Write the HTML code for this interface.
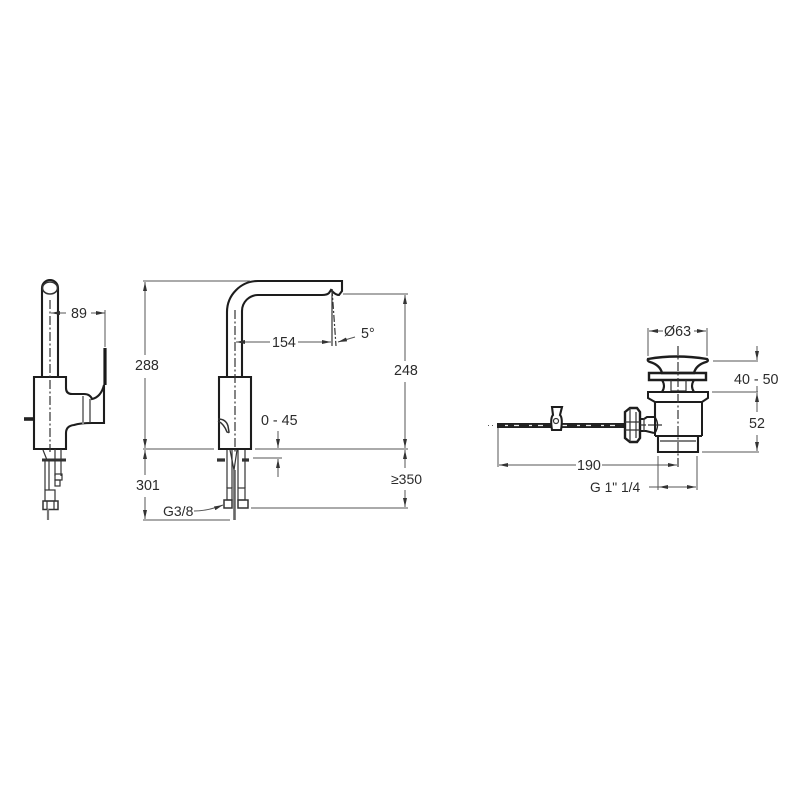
<!DOCTYPE html>
<html><head><meta charset="utf-8"><style>
html,body{margin:0;padding:0;background:#fff}svg{display:block}
text{font-family:"Liberation Sans",sans-serif;font-size:14.3px;fill:#2b2b2b}
.o{fill:none;stroke:#1d1d1d;stroke-width:2.1}
.m{fill:none;stroke:#333;stroke-width:1.2}
.d{fill:none;stroke:#555;stroke-width:1}
.c{fill:none;stroke:#333;stroke-width:1.2;stroke-dasharray:9 2.5 2 2.5}
</style></head><body>
<svg width="800" height="800" viewBox="0 0 800 800" xmlns="http://www.w3.org/2000/svg">
<defs>
<marker id="a" viewBox="0 0 9 4" refX="9" refY="2" markerWidth="9" markerHeight="4" orient="auto" markerUnits="userSpaceOnUse"><path d="M0 0L9 2L0 4z" fill="#333"/></marker>
</defs>

<!-- side view -->
<path class="o" d="M42 377V288a8 8 0 0 1 16 0V377"/>
<ellipse class="m" cx="50" cy="288" rx="7.500" ry="6" style="stroke-width:1.600"/>
<path class="o" d="M34 449V377H66V388Q66 394 72 394H84Q90 394 92 399Q101 397 104 385V423H92Q80 423 74 425Q66 426 66 433V449Z"/>
<path d="M105 348V385" stroke="#1a1a1a" stroke-width="3.200" fill="none"/>
<path d="M83 396V424" stroke="#888" stroke-width="2"/>
<path class="m" d="M90 399V423"/>
<path d="M24 419H33" stroke="#222" stroke-width="3.600"/>
<path class="c" d="M50 300V452"/>
<path class="m" d="M43 450L47 460M45 460V490M49 460V490M55 449V476M61 449V476"/>
<path d="M42 460H66" stroke="#333" stroke-width="3"/>
<rect class="m" x="55" y="474" width="7" height="6"/><rect class="m" x="55" y="480" width="5" height="6"/>
<rect class="m" x="45" y="490" width="10" height="11"/>
<rect class="m" x="43" y="501" width="15" height="8.500" style="stroke-width:1.500"/><path class="m" d="M47 501V509M54 501V509"/>
<path d="M48 509V520" stroke="#777" stroke-width="2.200"/>
<!-- 89 -->
<path class="d" d="M66 313H51" marker-end="url(#a)"/><path class="d" d="M91 313H105" marker-end="url(#a)"/>
<path class="d" d="M105 310V347"/>
<text x="71" y="318">89</text>

<!-- front view -->
<path class="o" d="M227 377V312A31 31 0 0 1 258 281H342V291L339 295Q336 295 333 292L331 290L329 293Q327 295 322 295H258A16 16 0 0 0 242 311V377"/>
<path class="o" d="M219 449V377H251V449Z"/>
<path class="c" d="M235 310V452"/>
<path class="m" d="M218 419Q226 419 228 426L229 432Q229 433 227 432Q224 424 218 421" style="stroke-width:1.500"/>
<path class="m" d="M227 450V488M232 450V488M245 450V488M238 450V488"/>
<path d="M234.500 470V520" stroke="#666" stroke-width="2.600"/>
<path class="m" d="M230 450L234 470M237 450L234 470"/>
<path d="M217 460H225M242 460H249" stroke="#333" stroke-width="3.200"/>
<rect class="m" x="227" y="488" width="5" height="12"/><rect class="m" x="238" y="488" width="7" height="12"/>
<rect class="m" x="224" y="500" width="8" height="8" style="stroke-width:1.500"/><rect class="m" x="238" y="500" width="10" height="8" style="stroke-width:1.500"/>
<path class="m" d="M332 289V346"/>
<path class="c" d="M332 289L336 346" style="stroke-dasharray:7 2 2 2"/>
<!-- dims -->
<path class="d" d="M143 281H250M143 449H214M255 449H408M143 520H230M253 458H282M251 508H408M343 294H408"/>
<path class="d" d="M145 355V282" marker-end="url(#a)"/><path class="d" d="M145 378V448" marker-end="url(#a)"/>
<path class="d" d="M145 475V450" marker-end="url(#a)"/><path class="d" d="M145 497V519" marker-end="url(#a)"/>
<text x="135" y="370">288</text><text x="136" y="490">301</text>
<text x="163" y="516" style="font-size:14px">G3/8</text>
<path class="d" d="M194 511Q208 511 223 505" marker-end="url(#a)"/>
<path class="d" d="M270 342H236" marker-end="url(#a)"/><path class="d" d="M298 342H331" marker-end="url(#a)"/>
<text x="272" y="347">154</text>
<path class="d" d="M355 337L338 342" marker-end="url(#a)"/>
<text x="361" y="338">5°</text>
<path class="d" d="M405 361V295" marker-end="url(#a)"/><path class="d" d="M405 382V448" marker-end="url(#a)"/>
<path class="d" d="M405 468V450" marker-end="url(#a)"/><path class="d" d="M405 490V507" marker-end="url(#a)"/>
<text x="394" y="375">248</text><text x="391" y="484" style="font-size:14px">≥350</text>
<path class="d" d="M278 431V448" marker-end="url(#a)"/><path class="d" d="M278 477V459" marker-end="url(#a)"/>
<text x="261" y="425">0 - 45</text>

<!-- drain -->
<path d="M497 423H626V428H497Z" fill="#222"/>
<path d="M505 425.500H625" stroke="#eee" stroke-width="1.200" stroke-dasharray="3 6 5 10"/>
<path d="M488 425.500H496" stroke="#555" stroke-width="1" stroke-dasharray="1 3"/>
<path class="o" d="M552 407H562L560 415Q563 418 561 430H552Q550 418 553 415Z" style="fill:#fff"/>
<circle class="m" cx="556" cy="421" r="2.500"/>
<path class="o" style="fill:#fff;stroke-width:2.400" d="M625 412L630 408H637L640 412V438L637 442H630L625 438Z"/>
<path class="m" d="M630 408V442M636 412V438M625 422H640M625 430H640"/>
<path class="o" d="M640 419H644L647 417H655V402M640 431H646L654 433"/>
<path class="m" d="M644 418V432"/>
<path class="o" d="M655 417Q660 425 655 433" style="stroke-width:1.400"/>
<path class="o" d="M648 359Q676 354 707 359Q709 361 706 362Q696 365 694 373H662Q660 365 650 362Q647 361 648 359Z" style="stroke-width:2.400"/>
<path class="o" d="M649 373H706V380H649Z" style="stroke-width:2.400"/>
<path class="o" d="M662 380Q666 386 662 392M694 380Q690 386 694 392"/>
<path class="m" d="M671 380V391H686V380"/>
<path class="o" d="M648 392H708V398L702 402H655L648 398Z" style="stroke-width:2"/>
<path class="o" d="M655 402V436M702 402V436M655 436H702" style="stroke-width:2"/>
<path class="o" d="M658 436V452H698V436"/>
<path class="m" d="M660 441H696"/>
<path class="c" d="M678 346V467"/>
<path class="c" d="M640 425H663" style="stroke-dasharray:6 2"/>
<!-- drain dims -->
<path class="d" d="M648 328V356M707 328V356"/>
<path class="d" d="M663 331H649" marker-end="url(#a)"/><path class="d" d="M694 331H706" marker-end="url(#a)"/>
<text x="664" y="336">Ø63</text>
<path class="d" d="M713 361H758M712 392H758M702 452H759"/>
<path class="d" d="M757 346V360" marker-end="url(#a)"/><path class="d" d="M757 386V392"/>
<path class="d" d="M757 412V393" marker-end="url(#a)"/><path class="d" d="M757 435V451" marker-end="url(#a)"/>
<text x="734" y="384">40 - 50</text><text x="749" y="428">52</text>
<path class="d" d="M498 428V467"/>
<path class="d" d="M576 465H499" marker-end="url(#a)"/><path class="d" d="M602 465H677" marker-end="url(#a)"/>
<text x="577" y="470">190</text>
<path class="d" d="M658 456V490M697 456V490"/>
<path class="d" d="M649 487H696"/>
<path class="d" d="M668 487H659" marker-end="url(#a)"/><path class="d" d="M687 487H696" marker-end="url(#a)"/>
<text x="590" y="492" style="font-size:13.800px">G 1" 1/4</text>
</svg>
</body></html>
